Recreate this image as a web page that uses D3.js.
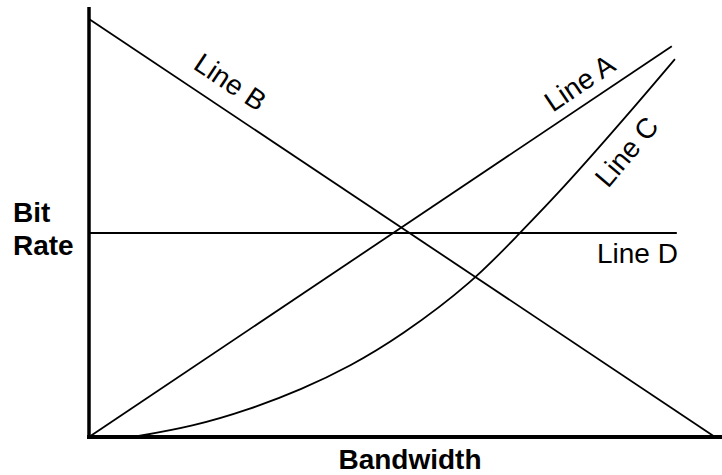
<!DOCTYPE html>
<html>
<head>
<meta charset="utf-8">
<script src="https://cdn.jsdelivr.net/npm/d3@7"></script>
<style>
  html, body { margin: 0; padding: 0; background: #fff; }
  svg { display: block; }
  text { font-family: "Liberation Sans", Arial, sans-serif; fill: #000; }
</style>
</head>
<body>
<svg id="chart" width="722" height="475"></svg>
<script>
// Data (arbitrary units 0..100)
const lineA = [[0, 0], [93.1, 93.5]];
const lineB = [[0, 100], [100, 0]];
const lineC = [[7.0, 0], [16.6, 2.5], [25.7, 6.6], [34.0, 11.4], [41.7, 16.9], [49.7, 24.0], [61.3, 37.0], [68.8, 48.8], [75.2, 58.6], [85.9, 76.8], [93.6, 90.4]];
const lineD = [[0, 48.8], [93.9, 48.8]];
const lineLabels = ["Line A", "Line B", "Line C", "Line D"];
const xTitle = "Bandwidth";
const yTitle = ["Bit", "Rate"];

const svg = d3.select("#chart");
const W = 722, H = 475;
const x = d3.scaleLinear().domain([0, 100]).range([89, 715]);
const y = d3.scaleLinear().domain([0, 100]).range([437, 19]);

const line = d3.line().x(d => x(d[0])).y(d => y(d[1]));
const curve = d3.line().x(d => x(d[0])).y(d => y(d[1])).curve(d3.curveBasis);

const g = svg.append("g");

// thin lines
[lineA, lineB, lineD].forEach(data => {
  g.append("path").attr("d", line(data))
    .attr("fill", "none").attr("stroke", "#000").attr("stroke-width", 1.8);
});
g.append("path").attr("d", curve(lineC))
  .attr("fill", "none").attr("stroke", "#000").attr("stroke-width", 1.8);

// axes
g.append("line").attr("x1", x(0)).attr("x2", x(0)).attr("y1", 7).attr("y2", y(0) + 2)
  .attr("stroke", "#000").attr("stroke-width", 3.5);
g.append("line").attr("x1", x(0) - 2).attr("x2", W).attr("y1", y(0)).attr("y2", y(0))
  .attr("stroke", "#000").attr("stroke-width", 4.2);

// line labels
const fs = 28;
function rotLabel(text, cx, cy, angle) {
  g.append("text").attr("transform", `translate(${cx},${cy}) rotate(${angle})`)
    .attr("text-anchor", "middle").attr("font-size", fs).text(text);
}
rotLabel(lineLabels[1], 225, 90, 33.7);
rotLabel(lineLabels[0], 585, 91, -33.9);
rotLabel(lineLabels[2], 634, 158, -50);
g.append("text").attr("x", 597).attr("y", 263).attr("font-size", fs).text(lineLabels[3]);

// axis titles
g.append("text").attr("x", 410).attr("y", 469).attr("text-anchor", "middle")
  .attr("font-size", fs).attr("font-weight", "bold").text(xTitle);
g.append("text").attr("x", 13).attr("y", 222).attr("font-size", fs).attr("font-weight", "bold").text(yTitle[0]);
g.append("text").attr("x", 13).attr("y", 255).attr("font-size", fs).attr("font-weight", "bold").text(yTitle[1]);
</script>
</body>
</html>
